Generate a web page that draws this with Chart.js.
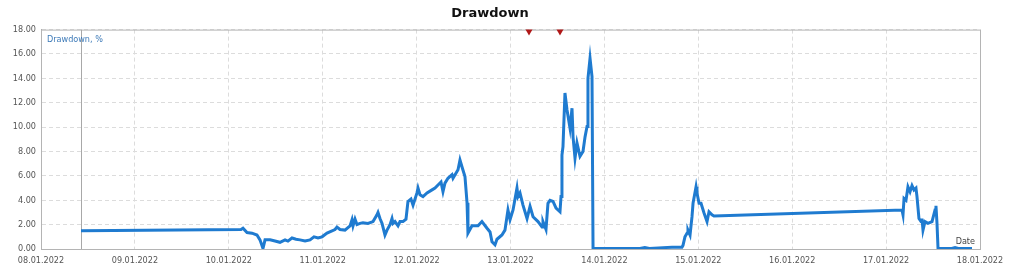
<!DOCTYPE html>
<html>
<head>
<meta charset="utf-8">
<script src="https://cdn.jsdelivr.net/npm/chart.js@4"></script>
<style>
  html, body { margin: 0; padding: 0; background: #fff; }
  #wrap { width: 1024px; height: 275px; }
</style>
</head>
<body>
<div id="wrap"><canvas id="dd"></canvas></div>
<script>
// days counted from 08.01.2022 00:00
const startDate = new Date(2022, 0, 8);
const dayOffsets = [
	0.426, 2.130, 2.151, 2.194, 2.247, 2.300, 2.332, 2.364, 2.386, 2.439,
	2.492, 2.545, 2.599, 2.630, 2.673, 2.716, 2.758, 2.812, 2.865, 2.907,
	2.950, 2.993, 3.046, 3.131, 3.152, 3.184, 3.237, 3.291, 3.312, 3.323,
	3.344, 3.365, 3.397, 3.429, 3.482, 3.536, 3.578, 3.589, 3.610, 3.632,
	3.663, 3.685, 3.717, 3.738, 3.749, 3.770, 3.802, 3.823, 3.855, 3.887,
	3.908, 3.940, 3.962, 4.004, 4.015, 4.036, 4.068, 4.111, 4.164, 4.196,
	4.228, 4.260, 4.281, 4.302, 4.334, 4.377, 4.388, 4.430, 4.441, 4.462,
	4.483, 4.515, 4.537, 4.547, 4.590, 4.654, 4.696, 4.750, 4.782, 4.803,
	4.835, 4.856, 4.909, 4.941, 4.973, 4.995, 5.027, 5.069, 5.080, 5.101,
	5.133, 5.176, 5.208, 5.240, 5.293, 5.336, 5.346, 5.378, 5.399, 5.421,
	5.453, 5.485, 5.506, 5.527, 5.538, 5.548, 5.559, 5.580, 5.602, 5.634,
	5.655, 5.666, 5.687, 5.708, 5.740, 5.772, 5.794, 5.815, 5.825, 5.847,
	5.868, 5.879, 6.379, 6.430, 6.480, 6.720, 6.826, 6.837, 6.858, 6.880,
	6.890, 6.912, 6.933, 6.944, 6.976, 6.986, 7.008, 7.029, 7.061, 7.093,
	7.114, 7.146, 7.167, 9.169, 9.180, 9.191, 9.212, 9.233, 9.255, 9.276,
	9.297, 9.318, 9.329, 9.350, 9.372, 9.382, 9.393, 9.414, 9.446, 9.489,
	9.521, 9.531, 9.542, 9.553, 9.700, 9.734, 9.770, 9.915
];
const drawdownPct = [
	1.50, 1.60, 1.70, 1.35, 1.30, 1.15, 0.75, 0.05, 0.75, 0.75,
	0.65, 0.55, 0.75, 0.65, 0.90, 0.80, 0.75, 0.65, 0.75, 1.00,
	0.90, 1.00, 1.30, 1.60, 1.80, 1.60, 1.55, 1.90, 2.40, 1.90,
	2.45, 2.00, 2.10, 2.15, 2.10, 2.25, 2.80, 3.00, 2.50, 2.10,
	1.15, 1.55, 2.00, 2.50, 2.10, 2.25, 1.90, 2.25, 2.25, 2.45,
	3.90, 4.10, 3.60, 4.60, 5.00, 4.45, 4.30, 4.60, 4.85, 5.00,
	5.25, 5.50, 4.70, 5.40, 5.80, 6.10, 5.80, 6.35, 6.50, 7.30,
	6.75, 5.95, 3.80, 1.30, 1.90, 1.90, 2.25, 1.70, 1.40, 0.60,
	0.35, 0.80, 1.15, 1.55, 3.20, 2.40, 3.20, 5.00, 4.30, 4.60,
	3.60, 2.50, 3.50, 2.65, 2.25, 1.80, 2.25, 1.60, 3.75, 4.00,
	3.90, 3.35, 3.20, 3.05, 4.30, 7.70, 8.40, 12.80, 11.40, 9.90,
	11.55, 9.20, 7.45, 8.70, 7.60, 8.00, 9.20, 10.05, 14.00, 15.65,
	14.15, 0.05, 0.05, 0.12, 0.05, 0.15, 0.15, 0.30, 1.00, 1.30,
	1.55, 1.15, 2.65, 3.75, 5.10, 4.60, 3.75, 3.75, 2.95, 2.25,
	3.05, 2.80, 2.70, 3.20, 2.80, 4.15, 4.00, 5.10, 4.70, 5.20,
	4.85, 5.00, 4.30, 2.50, 2.25, 2.50, 1.55, 2.25, 2.10, 2.25,
	3.20, 3.55, 2.10, 0.05, 0.05, 0.12, 0.05, 0.05
];
// red markers at the top edge
const markerDays = [5.197, 5.527];
const yTicks = [0, 2, 4, 6, 8, 10, 12, 14, 16, 18];

const tickFont = { family: "'DejaVu Sans Condensed', 'DejaVu Sans', sans-serif", size: 9 };

function dayLabel(v) {
	const d = new Date(startDate.getTime() + v * 86400000);
	const dd = String(d.getDate()).padStart(2, '0');
	const mm = String(d.getMonth() + 1).padStart(2, '0');
	return dd + '.' + mm + '.' + d.getFullYear();
}

const decor = {
	id: 'decor',
	beforeDatasetsDraw(chart) {
		const a = chart.chartArea;
		const ctx = chart.ctx;
		const xs = chart.scales.x;
		ctx.save();
		ctx.strokeStyle = '#b4b4b4';
		ctx.lineWidth = 1;
		ctx.strokeRect(a.left + 0.5, a.top + 0.5, a.right - a.left, a.bottom - a.top);
		const sx = Math.round(xs.getPixelForValue(dayOffsets[0])) + 0.5;
		ctx.strokeStyle = '#a8a8a8';
		ctx.beginPath();
		ctx.moveTo(sx, a.top);
		ctx.lineTo(sx, a.bottom);
		ctx.stroke();
		ctx.restore();
	},
	afterDatasetsDraw(chart) {
		const a = chart.chartArea;
		const ctx = chart.ctx;
		ctx.save();
		ctx.font = "9px 'DejaVu Sans Condensed', 'DejaVu Sans', sans-serif";
		ctx.textBaseline = 'middle';
		ctx.fillStyle = '#3d7ab8';
		ctx.textAlign = 'left';
		ctx.fillText('Drawdown, %', a.left + 6, a.top + 10);
		ctx.fillStyle = '#444';
		ctx.textAlign = 'right';
		ctx.fillText('Date', a.right - 5, a.bottom - 7);
		ctx.restore();
	}
};

new Chart(document.getElementById('dd'), {
	type: 'line',
	data: {
		datasets: [{
			label: 'Drawdown',
			data: dayOffsets.map((d, i) => ({ x: d, y: drawdownPct[i] })),
			borderColor: '#1f7bd0',
			borderWidth: 3,
			pointRadius: 0,
			tension: 0,
			fill: false
		}, {
			label: 'markers',
			data: markerDays.map(d => ({ x: d, y: 17.85 })),
			showLine: false,
			pointStyle: 'triangle',
			rotation: 180,
			pointRadius: 4,
			backgroundColor: '#b01818',
			borderColor: '#b01818',
			borderWidth: 0,
			clip: false
		}]
	},
	options: {
		responsive: true,
		maintainAspectRatio: false,
		animation: false,
		layout: { padding: { left: 0, right: 44, top: 0, bottom: 0 } },
		plugins: {
			legend: { display: false },
			tooltip: { enabled: false },
			title: {
				display: true,
				text: 'Drawdown',
				color: '#111',
				font: { family: "'DejaVu Sans', sans-serif", size: 13, weight: 'bold' },
				padding: { top: 6, bottom: 8 }
			}
		},
		scales: {
			x: {
				type: 'linear',
				min: 0,
				max: 10,
				afterFit(s) { s.height = 26; },
				ticks: {
					stepSize: 1,
					maxRotation: 0,
					autoSkip: false,
					padding: 6,
					color: '#555',
					font: tickFont,
					callback: v => dayLabel(v)
				},
				grid: { color: '#dcdcdc', drawTicks: false },
				border: { display: true, color: '#a8a8a8', dash: [4, 3] }
			},
			y: {
				min: 0,
				max: 18,
				afterFit(s) { s.width = 41; },
				afterBuildTicks(s) { s.ticks = yTicks.map(v => ({ value: v })); },
				ticks: {
					padding: 5,
					color: '#555',
					font: tickFont,
					callback: v => v.toFixed(2)
				},
				grid: { color: '#dcdcdc', drawTicks: false },
				border: { display: true, color: '#a8a8a8', dash: [4, 3] }
			}
		}
	},
	plugins: [decor]
});
</script>
</body>
</html>
